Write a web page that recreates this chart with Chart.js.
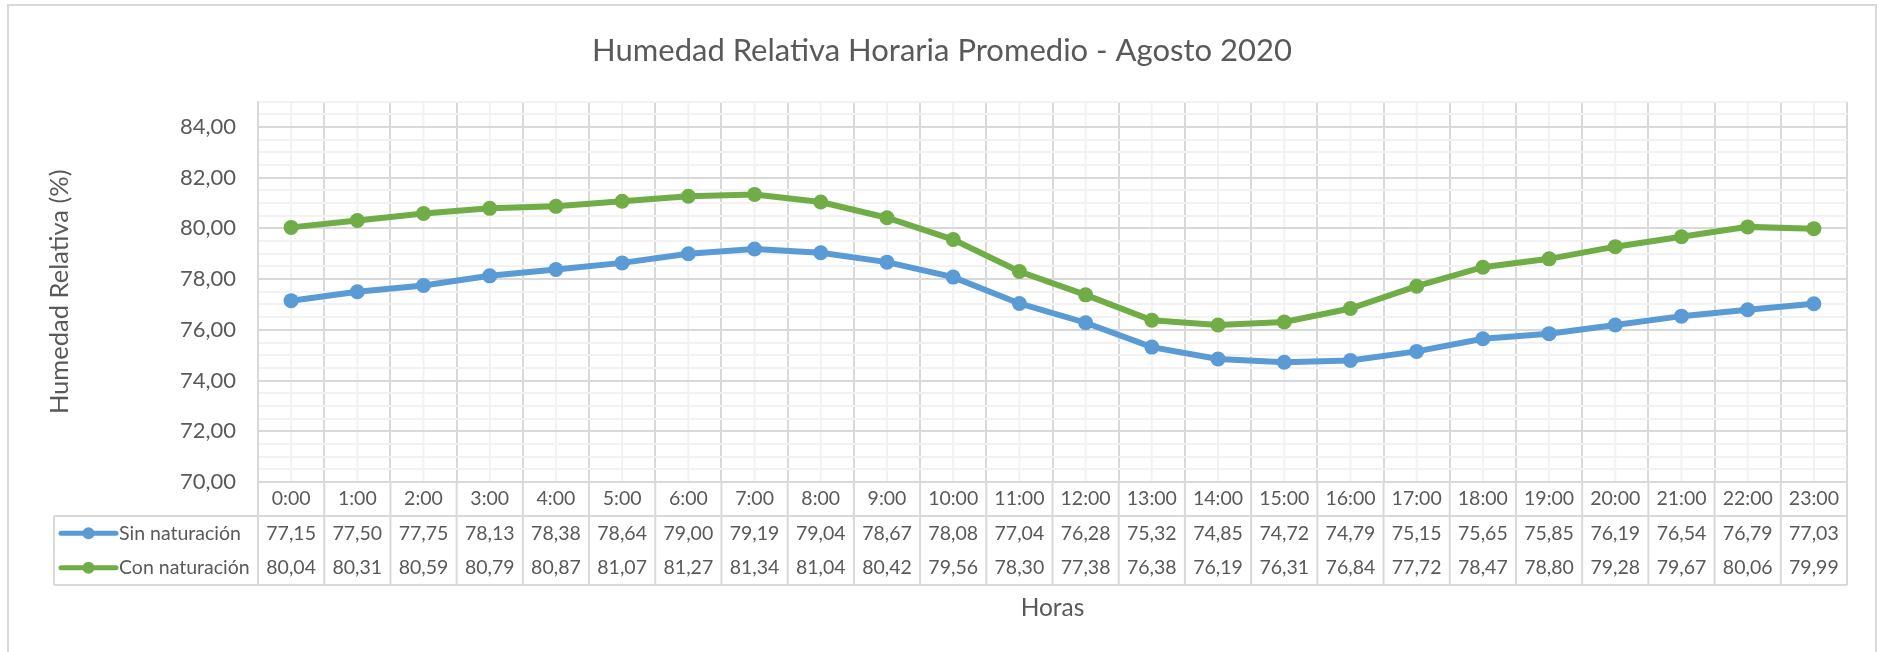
<!DOCTYPE html>
<html>
<head>
<meta charset="utf-8">
<title>Humedad Relativa Horaria Promedio - Agosto 2020</title>
<script src="https://cdn.jsdelivr.net/npm/chart.js@4.4.1/dist/chart.umd.min.js"></script>
<style>
    html, body { margin: 0; padding: 0; background: #fff; }
    canvas { display: block; }
</style>
</head>
<body>
<canvas id="humChart" width="1877" height="652"></canvas>
<script>
const horas = ['0:00', '1:00', '2:00', '3:00', '4:00', '5:00', '6:00', '7:00', '8:00', '9:00', '10:00', '11:00',
    '12:00', '13:00', '14:00', '15:00', '16:00', '17:00', '18:00', '19:00', '20:00', '21:00', '22:00', '23:00'];
const sinNaturacion = [77.15, 77.50, 77.75, 78.13, 78.38, 78.64, 79.00, 79.19, 79.04, 78.67, 78.08, 77.04,
    76.28, 75.32, 74.85, 74.72, 74.79, 75.15, 75.65, 75.85, 76.19, 76.54, 76.79, 77.03];
const conNaturacion = [80.04, 80.31, 80.59, 80.79, 80.87, 81.07, 81.27, 81.34, 81.04, 80.42, 79.56, 78.30,
    77.38, 76.38, 76.19, 76.31, 76.84, 77.72, 78.47, 78.80, 79.28, 79.67, 80.06, 79.99];
const seriesNames = ['Sin naturación', 'Con naturación'];
const seriesColors = ['#5B9BD5', '#70AD47'];
const yMin = 70, yMax = 85, yMajor = 2, yMinor = 0.5;

const textColor = '#595959';
const majorGrid = '#d9d9d9';
const minorGrid = '#f2f2f2';

function fmt(v) {
    return v.toFixed(2).replace('.', ',');
}

//..outer frame, minor vertical lines, and the data table under the axis
const dataTable = {
    id: 'dataTable',
    beforeDraw(chart) {
        const ctx = chart.ctx;
        const area = chart.chartArea;
        const x = chart.scales.x;
        ctx.save();
        ctx.strokeStyle = majorGrid;
        ctx.lineWidth = 2;
        ctx.strokeRect(8, 5, 1868, 660);

        ctx.strokeStyle = minorGrid;
        horas.forEach((_, i) => {
            const px = x.getPixelForValue(i);
            ctx.beginPath();
            ctx.moveTo(px, area.top);
            ctx.lineTo(px, area.bottom);
            ctx.stroke();
        });
        ctx.restore();
    },
    afterDraw(chart) {
        const ctx = chart.ctx;
        const area = chart.chartArea;
        const x = chart.scales.x;
        const headerH = 34, rowH = 34.5, tableLeft = 54;
        const rowTop = area.bottom + headerH;
        const tableBottom = rowTop + rowH * 2;
        const half = (x.getPixelForValue(1) - x.getPixelForValue(0)) / 2;

        ctx.save();
        ctx.strokeStyle = majorGrid;
        ctx.lineWidth = 2;

        //..column lines
        for (let i = 0; i <= horas.length; i++) {
            const px = x.getPixelForValue(0) - half + i * half * 2;
            ctx.beginPath();
            ctx.moveTo(px, area.bottom);
            ctx.lineTo(px, tableBottom);
            ctx.stroke();
        }
        //..row lines
        [rowTop, tableBottom].forEach(py => {
            ctx.beginPath();
            ctx.moveTo(tableLeft, py);
            ctx.lineTo(area.right, py);
            ctx.stroke();
        });
        ctx.beginPath();
        ctx.moveTo(tableLeft, rowTop);
        ctx.lineTo(tableLeft, tableBottom);
        ctx.stroke();

        //..rows
        const rows = [sinNaturacion, conNaturacion];
        ctx.font = '19.5px Lato';
        ctx.textBaseline = 'middle';
        rows.forEach((values, r) => {
            const cy = rowTop + rowH * r + rowH / 2;

            ctx.strokeStyle = seriesColors[r];
            ctx.lineWidth = 5;
            ctx.lineCap = 'round';
            ctx.beginPath();
            ctx.moveTo(61, cy);
            ctx.lineTo(116, cy);
            ctx.stroke();
            ctx.fillStyle = seriesColors[r];
            ctx.beginPath();
            ctx.arc(88.5, cy, 6, 0, Math.PI * 2);
            ctx.fill();

            ctx.fillStyle = textColor;
            ctx.textAlign = 'left';
            ctx.fillText(seriesNames[r], 119, cy);

            ctx.textAlign = 'center';
            values.forEach((v, i) => {
                ctx.fillText(fmt(v), x.getPixelForValue(i), cy);
            });
        });
        ctx.restore();
    }
};

Chart.defaults.font.family = 'Lato';
Chart.defaults.color = textColor;

new Chart(document.getElementById('humChart'), {
    type: 'line',
    data: {
        labels: horas,
        datasets: [
            {
                label: seriesNames[0],
                data: sinNaturacion,
                borderColor: seriesColors[0],
                backgroundColor: seriesColors[0],
                borderWidth: 6,
                pointRadius: 7.5,
                pointHoverRadius: 7.5,
                pointBorderWidth: 0,
                tension: 0
            },
            {
                label: seriesNames[1],
                data: conNaturacion,
                borderColor: seriesColors[1],
                backgroundColor: seriesColors[1],
                borderWidth: 6,
                pointRadius: 7.5,
                pointHoverRadius: 7.5,
                pointBorderWidth: 0,
                tension: 0
            }
        ]
    },
    options: {
        responsive: false,
        animation: false,
        devicePixelRatio: 1,
        layout: {
            padding: { left: 37, right: 30, top: 0, bottom: 0 }
        },
        plugins: {
            legend: { display: false },
            tooltip: { enabled: false },
            title: {
                display: true,
                text: 'Humedad Relativa Horaria Promedio - Agosto 2020',
                color: textColor,
                font: { size: 31, weight: 'normal' },
                padding: { top: 32.4, bottom: 32 }
            }
        },
        scales: {
            x: {
                offset: true,
                grid: {
                    offset: true,
                    color: majorGrid,
                    lineWidth: 2,
                    drawTicks: false
                },
                border: { color: majorGrid, width: 2 },
                ticks: {
                    autoSkip: false,
                    maxRotation: 0,
                    padding: 5,
                    font: { size: 19.5 }
                },
                title: {
                    display: true,
                    text: 'Horas',
                    font: { size: 24.5 },
                    padding: { top: 0, bottom: 29.3 }
                },
                afterFit(scale) {
                    scale.height = 170;
                }
            },
            y: {
                min: yMin,
                max: yMax,
                grid: {
                    drawTicks: false,
                    lineWidth: 2,
                    color: c => (c.tick && c.tick.value % yMajor === 0 ? majorGrid : minorGrid)
                },
                border: { color: majorGrid, width: 2 },
                ticks: {
                    stepSize: yMinor,
                    autoSkip: false,
                    padding: 22,
                    font: { size: 22 },
                    callback: v => (v % yMajor === 0 ? fmt(v) : '')
                },
                title: {
                    display: true,
                    text: 'Humedad Relativa (%)',
                    font: { size: 25.5 },
                    padding: { top: 7.8, bottom: 0 }
                },
                afterFit(scale) {
                    scale.width = 221;
                }
            }
        }
    },
    plugins: [dataTable]
});
</script>
</body>
</html>
